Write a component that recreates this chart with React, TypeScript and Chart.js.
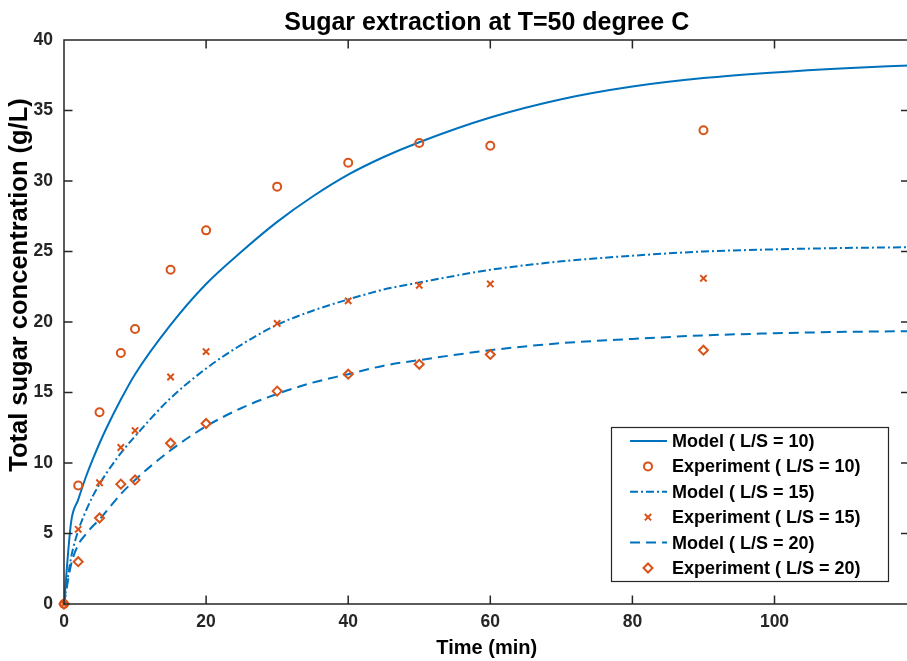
import { useEffect, useRef } from 'react';
import { Chart, registerables } from 'chart.js';
import { drawPoint } from 'chart.js/helpers';

Chart.register(...registerables);

// ---------- data ----------
const chartTitle = 'Sugar extraction at T=50 degree C';
const xAxisTitle = 'Time (min)';
const yAxisTitle = 'Total sugar concentration (g/L)';

const xTickValues = [0, 20, 40, 60, 80, 100];
const yTickValues = [0, 5, 10, 15, 20, 25, 30, 35, 40];
const xMin = 0;
const xMax = 119;
const yMin = 0;
const yMax = 40;

const modelTime = [0, 1, 2, 3, 4, 5, 6, 8, 10, 15, 20, 25, 30, 35, 40, 45, 50, 60, 70, 80, 90, 100, 110, 119];
const modelLS10 = [0, 5.8, 7.4, 8.9, 10.2, 11.4, 12.5, 14.5, 16.3, 19.8, 22.7, 25.0, 27.1, 28.9, 30.45, 31.7, 32.75, 34.5, 35.8, 36.7, 37.3, 37.7, 38.0, 38.2];
const modelLS15 = [0, 3.3, 5.2, 6.5, 7.6, 8.5, 9.3, 10.7, 11.9, 14.6, 16.7, 18.4, 19.8, 20.8, 21.6, 22.3, 22.8, 23.7, 24.3, 24.7, 25.0, 25.15, 25.25, 25.3];
const modelLS20 = [0, 2.8, 4.2, 4.9, 5.5, 6.0, 6.6, 7.8, 8.8, 10.9, 12.6, 13.9, 14.9, 15.7, 16.3, 16.9, 17.3, 18.0, 18.5, 18.8, 19.05, 19.2, 19.3, 19.35];

const expTime = [0, 2, 5, 8, 10, 15, 20, 30, 40, 50, 60, 90];
const expLS10 = [0, 8.4, 13.6, 17.8, 19.5, 23.7, 26.5, 29.6, 31.3, 32.7, 32.5, 33.6];
const expLS15 = [0, 5.3, 8.6, 11.1, 12.3, 16.1, 17.9, 19.9, 21.5, 22.6, 22.7, 23.1];
const expLS20 = [0, 3.0, 6.1, 8.5, 8.8, 11.4, 12.8, 15.1, 16.3, 17.0, 17.7, 18.0];

const seriesLabels = [
  'Model ( L/S = 10)',
  'Experiment ( L/S = 10)',
  'Model ( L/S = 15)',
  'Experiment ( L/S = 15)',
  'Model ( L/S = 20)',
  'Experiment ( L/S = 20)',
];

// ---------- styles ----------
const BLUE = '#0072BD';
const ORANGE = '#D95319';
const AXIS = '#262626';
const FONT = "'Liberation Sans', Arial, Helvetica, sans-serif";

const toXY = (xs: number[], ys: number[]) => xs.map((x, i) => ({ x, y: ys[i] }));

const modelDs = (label: string, ys: number[], dash: number[], order: number) => ({
  label,
  data: toXY(modelTime, ys),
  showLine: true,
  borderColor: BLUE,
  backgroundColor: BLUE,
  borderWidth: 2,
  borderDash: dash,
  pointRadius: 0,
  pointHoverRadius: 0,
  cubicInterpolationMode: 'monotone',
  order,
});

const expDs = (label: string, ys: number[], style: string, radius: number, order: number) => ({
  label,
  data: toXY(expTime, ys),
  showLine: false,
  pointStyle: style,
  pointRadius: radius,
  pointHoverRadius: radius,
  pointBorderWidth: 2,
  borderWidth: 2,
  pointBorderColor: ORANGE,
  borderColor: ORANGE,
  pointBackgroundColor: 'rgba(0,0,0,0)',
  backgroundColor: 'rgba(0,0,0,0)',
  clip: false,
  order,
});

const frameTicksPlugin = {
  id: 'frameTicks',
  afterDatasetsDraw(chart: any) {
    const { ctx, chartArea: a, scales } = chart;
    const L = 8.5;
    ctx.save();
    ctx.strokeStyle = AXIS;
    ctx.lineWidth = 1.5;
    ctx.beginPath();
    ctx.rect(a.left, a.top, a.right - a.left, a.bottom - a.top);
    scales.x.ticks.forEach((t: any) => {
      const px = scales.x.getPixelForValue(t.value);
      ctx.moveTo(px, a.bottom);
      ctx.lineTo(px, a.bottom - L);
      ctx.moveTo(px, a.top);
      ctx.lineTo(px, a.top + L);
    });
    scales.y.ticks.forEach((t: any) => {
      const py = scales.y.getPixelForValue(t.value);
      ctx.moveTo(a.left, py);
      ctx.lineTo(a.left + L, py);
      ctx.moveTo(a.right, py);
      ctx.lineTo(a.right - L, py);
    });
    ctx.stroke();
    ctx.restore();
  },
};

const yTitlePlugin = {
  id: 'yTitle',
  afterDraw(chart: any) {
    const { ctx } = chart;
    ctx.save();
    ctx.translate(20, 285);
    ctx.rotate(-Math.PI / 2);
    ctx.font = `bold 25.5px ${FONT}`;
    ctx.fillStyle = '#000000';
    ctx.textAlign = 'center';
    ctx.textBaseline = 'middle';
    ctx.fillText(yAxisTitle, 0, 0);
    ctx.restore();
  },
};

const boxLegendPlugin = {
  id: 'boxLegend',
  afterDraw(chart: any) {
    const { ctx } = chart;
    const bx = 611, by = 427, bw = 277, bh = 154;
    const rowH = 25.4;
    ctx.save();
    ctx.fillStyle = '#ffffff';
    ctx.fillRect(bx, by, bw, bh);
    ctx.strokeStyle = AXIS;
    ctx.lineWidth = 1.2;
    ctx.strokeRect(bx + 0.5, by + 0.5, bw, bh);
    chart.data.datasets.forEach((ds: any, i: number) => {
      const cy = by + 14 + i * rowH;
      if (ds.showLine) {
        ctx.save();
        ctx.strokeStyle = ds.borderColor;
        ctx.lineWidth = ds.borderWidth;
        ctx.setLineDash(ds.borderDash || []);
        ctx.beginPath();
        ctx.moveTo(630, cy);
        ctx.lineTo(667, cy);
        ctx.stroke();
        ctx.restore();
      } else {
        ctx.save();
        ctx.strokeStyle = ds.pointBorderColor;
        ctx.fillStyle = 'rgba(0,0,0,0)';
        ctx.lineWidth = ds.pointBorderWidth;
        drawPoint(ctx, { pointStyle: ds.pointStyle, radius: ds.pointRadius, borderWidth: ds.pointBorderWidth, rotation: 0 }, 648, cy);
        ctx.restore();
      }
      ctx.fillStyle = '#000000';
      ctx.font = `bold 18px ${FONT}`;
      ctx.textAlign = 'left';
      ctx.textBaseline = 'middle';
      ctx.fillText(ds.label, 672, cy + 1);
    });
    ctx.restore();
  },
};

export default function App() {
  const ref = useRef<HTMLCanvasElement | null>(null);

  useEffect(() => {
    if (!ref.current) return;
    const chart = new Chart(ref.current, {
      type: 'scatter',
      data: {
        datasets: [
          modelDs(seriesLabels[0], modelLS10, [], 0),
          expDs(seriesLabels[1], expLS10, 'circle', 4, -1),
          modelDs(seriesLabels[2], modelLS15, [8, 3, 2, 3], -2),
          expDs(seriesLabels[3], expLS15, 'crossRot', 4.5, -3),
          modelDs(seriesLabels[4], modelLS20, [10, 6], -4),
          expDs(seriesLabels[5], expLS20, 'rectRot', 4.5, -5),
        ] as any,
      },
      options: {
        animation: false,
        responsive: false,
        maintainAspectRatio: false,
        layout: { padding: { left: 0, right: 1, top: 0, bottom: 0 } },
        plugins: {
          legend: { display: false },
          tooltip: { enabled: false },
          title: {
            display: true,
            text: chartTitle,
            fullSize: false,
            color: '#000000',
            font: { family: FONT, size: 25, weight: 'bold', lineHeight: 1.2 },
            padding: { top: 8, bottom: 2 },
          },
        },
        scales: {
          x: {
            type: 'linear',
            min: xMin,
            max: xMax,
            afterBuildTicks: (s: any) => {
              s.ticks = xTickValues.map((v) => ({ value: v }));
            },
            afterFit: (s: any) => {
              s.height = 57;
            },
            grid: { display: false, drawTicks: false },
            border: { display: false },
            ticks: {
              padding: 8,
              color: AXIS,
              autoSkip: false,
              maxRotation: 0,
              font: { family: FONT, size: 17.5, weight: 'bold' },
            },
            title: {
              display: true,
              text: xAxisTitle,
              color: '#000000',
              font: { family: FONT, size: 20, weight: 'bold', lineHeight: 1.2 },
              padding: { top: 0, bottom: 1 },
            },
          },
          y: {
            type: 'linear',
            min: yMin,
            max: yMax,
            afterBuildTicks: (s: any) => {
              s.ticks = yTickValues.map((v) => ({ value: v }));
            },
            afterFit: (s: any) => {
              s.width = 64;
            },
            grid: { display: false, drawTicks: false },
            border: { display: false },
            ticks: {
              padding: 11,
              color: AXIS,
              autoSkip: false,
              font: { family: FONT, size: 17.5, weight: 'bold' },
            },
            title: { display: false },
          },
        },
      } as any,
      plugins: [frameTicksPlugin, yTitlePlugin, boxLegendPlugin],
    });
    return () => chart.destroy();
  }, []);

  return (
    <div
      style={{
        position: 'fixed',
        left: 0,
        top: 0,
        width: 907,
        height: 661,
        overflow: 'hidden',
        background: '#ffffff',
      }}
    >
      <canvas ref={ref} width={916} height={661} style={{ display: 'block' }} />
    </div>
  );
}
